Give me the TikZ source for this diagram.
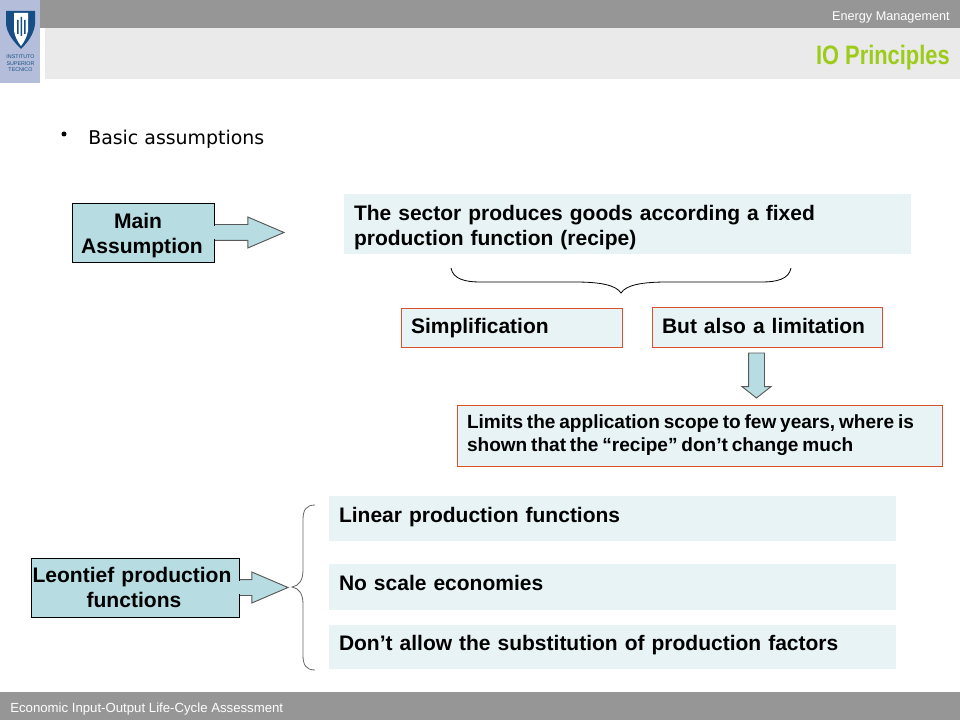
\documentclass[tikz,border=0pt]{standalone}
\usepackage{fontspec}
\setmainfont{Liberation Sans}
\newfontfamily\bulletfont{DejaVu Sans}
\usetikzlibrary{positioning, shapes.arrows}
\definecolor{barGray}{HTML}{969696}
\definecolor{headGray}{HTML}{EAEAEA}
\definecolor{logoBlue}{HTML}{B4BEDA}
\definecolor{shieldBlue}{HTML}{174E86}
\definecolor{paleBlue}{HTML}{E8F3F6}
\definecolor{tealBlue}{HTML}{B7DDE3}
\definecolor{redLine}{HTML}{D9512C}
\definecolor{titleGreen}{HTML}{9CCB19}
\newlength\pxu
\setlength{\pxu}{0.75pt}
\tikzset{
    textdown/.style={execute at begin node={\rule{0pt}{\dimexpr 11.5pt+#1\pxu\relax}}},
    textup/.style={execute at end node={\par\vspace*{#1\pxu}}},
    plainbox/.style={fill=paleBlue, anchor=north west, inner ysep=0pt, inner xsep=10\pxu, outer sep=0pt, align=left, font=\bfseries\fontsize{15.75}{18.75}\selectfont},
    redbox/.style={plainbox, draw=redLine, line width=0.7pt},
    headbox/.style={fill=tealBlue, draw=black, line width=0.7pt, anchor=north west, inner sep=0pt, outer sep=0pt, align=center, font=\bfseries\fontsize{15.8}{18.75}\selectfont},
    blockarrow/.style={single arrow, fill=tealBlue, draw=black!65, line width=0.7pt, inner xsep=0pt, inner ysep=7.5\pxu, outer sep=0pt, single arrow head extend=7.5\pxu, single arrow tip angle=46.4, minimum height=70\pxu},
    seam/.style={draw=tealBlue, line width=1pt},
    brace/.style={line width=0.6pt}
}
\begin{document}
\begin{tikzpicture}[x=0.75pt, y=-0.75pt]
    \useasboundingbox (0,0) rectangle (960,720);

    % HEADER AND FOOTER
    \fill[barGray] (0,0) rectangle (960,28);
    \fill[headGray] (45,28) rectangle (960,79);
    \fill[barGray] (0,692) rectangle (960,720);
    \node[anchor=east, text=white, font=\fontsize{9.5}{11}\selectfont, inner sep=0pt] (topic) at (950,17) {Energy Management};
    \node[anchor=east, text=titleGreen, font=\bfseries\fontsize{20}{24}\selectfont, inner sep=0pt] (title) at (950,58) {\scalebox{0.82}[1]{IO Principles}};
    \node[anchor=west, text=white, font=\fontsize{9.9}{11}\selectfont, inner sep=0pt] (course) at (10,709) {Economic Input-Output Life-Cycle Assessment};

    % LOGO
    \fill[logoBlue] (0,0) rectangle (40,83);
    \fill[shieldBlue] (6,11) -- (35,11) -- (35,24) .. controls (34,34) and (28,42) .. (21,49) .. controls (14,42) and (7,34) .. (6,24) -- cycle;
    \fill[white] (14,13) -- (28,13) -- (28,31) .. controls (27,37) and (24,42) .. (21,46) .. controls (18,42) and (15,37) .. (14,31) -- cycle;
    \fill[shieldBlue] (17,20) rectangle (18.5,34) (20.5,17) rectangle (22,36) (24,20) rectangle (25.5,34);
    \node[text=shieldBlue, font=\fontsize{4}{4.9}\selectfont, align=center, inner sep=0pt] (school) at (20.5,63.5) {INSTITUTO\\SUPERIOR\\TECNICO};

    % BULLET
    \node[font=\bulletfont\fontsize{14.2}{16}\selectfont, anchor=west, inner sep=0pt] (basic) at (88,139) {Basic assumptions};
    \fill (64,134) circle (2.5) coordinate (dot);

    % TOP BLOCK
    \node[blockarrow, anchor=tail] (mainarrow) at (214,232.5) {};
    \node[headbox, text width=142\pxu, minimum height=59\pxu, textdown=6] (main) at (72,203) {Main\kern10\pxu\\Assumption\kern2\pxu};
    \draw[seam] ([yshift=-5pt]main.east) -- ([yshift=5pt]main.east);
    \node[plainbox, text width=547\pxu, minimum height=60\pxu, textdown=8] (sector) at (344,194) {The sector produces goods according a fixed\\production function (recipe)};
    \draw[brace] (451,268) .. controls (453,279) and (465,282) .. (480,282) -- (575,282) .. controls (600,282) and (616,285) .. (621,293) .. controls (626,285) and (642,282) .. (667,282) -- (762,282) .. controls (777,282) and (789,279) .. (791,268);

    \node[redbox, text width=201\pxu, minimum height=39\pxu, textdown=2] (simple) at (401,308) {Simplification};
    \node[redbox, text width=210\pxu, minimum height=40\pxu, textup=2] (limit) at (652,307) {But also a limitation};
    \node[redbox, text width=465\pxu, minimum height=61\pxu, font=\bfseries\fontsize{14.3}{17.25}\selectfont, execute at begin node={\spaceskip=0.2em\relax}] (scope) at (457,405) {Limits the application scope to few years, where is\\shown that the ``recipe'' don't change much};
    \node[blockarrow, rotate=-90, anchor=tail, minimum height=45\pxu, single arrow head extend=6.5\pxu, single arrow tip angle=103.7] (downarrow) at (756.5,353) {};

    % BOTTOM BLOCK
    \node[blockarrow, anchor=tail, minimum height=49\pxu] (leoarrow) at (239,587.5) {};
    \node[headbox, text width=208\pxu, minimum height=59\pxu] (leontief) at (31,558) {Leontief production\kern6\pxu\\functions\kern2\pxu};
    \draw[seam] ([yshift=-5pt]leontief.east) -- ([yshift=5pt]leontief.east);
    \node[plainbox, text width=547\pxu, minimum height=45\pxu, textup=2] (linear) at (329,496) {Linear production functions};
    \node[plainbox, text width=547\pxu, minimum height=46\pxu, textup=8] (scale) at (329,564) {No scale economies};
    \node[plainbox, text width=547\pxu, minimum height=44\pxu, textup=4] (subst) at (329,625) {Don't allow the substitution of production factors};
    \draw[brace, draw=black!60] (315,505) .. controls (306,505) and (303,510) .. (303,520) -- (303,570) .. controls (303,580) and (299,586) .. (292,587) .. controls (299,588) and (303,594) .. (303,604) -- (303,655) .. controls (303,665) and (306,670) .. (315,670);
\end{tikzpicture}
\end{document}
